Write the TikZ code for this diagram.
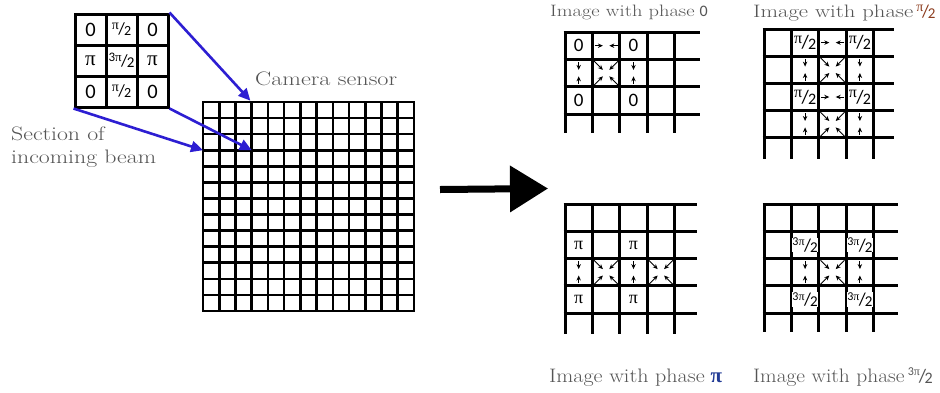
\documentclass[tikz,border=0pt]{standalone}
\usepackage{fontspec}
\usepackage{graphicx}
\usetikzlibrary{arrows.meta,calc}
\newfontfamily\calib{Carlito}
\newfontfamily\lserif{Liberation Serif}
\definecolor{txtgray}{RGB}{85,85,85}
\definecolor{beamblue}{RGB}{45,30,210}
\definecolor{phbrown}{RGB}{140,60,30}
\definecolor{phblue}{RGB}{35,60,150}
% #1 numerator, #2 denominator, #3 num size, #4 slash size, #5 den size, #6 raise
\newcommand\pfr[6]{\raisebox{#6}{\fontsize{#3}{#3}\selectfont #1}\kern-0.06em{\calib\fontsize{#4}{#4}\selectfont /}\kern-0.08em\raisebox{-1pt}{\calib\fontsize{#5}{#5}\selectfont #2}}
\newcommand\pipart{{\lserif π}}
\newcommand\threepi{{\calib 3}{\lserif π}}
\newcommand\wide[2]{\scalebox{#1}[1]{#2}}
\begin{document}
\begin{tikzpicture}[x=1pt,y=-1pt,
  txt/.style={text=txtgray, font=\fontsize{19.5}{23.5}\selectfont, inner sep=0pt},
  lab/.style={fill=white, inner sep=0.3pt, text=black},
  gridline/.style={line width=3pt, line cap=rect},
  sensline/.style={line width=2.6pt},
  beam/.style={draw=beamblue, line width=2.6pt, -{Triangle[length=12pt,width=11pt]}, fill=beamblue},
  sarr/.style={line width=0.9pt, -{Stealth[length=5pt,width=4.4pt]}},
  hpair/.pic={\draw[sarr] (-11.5,0)--(-3.2,0); \draw[sarr] (11.5,0)--(3.2,0);},
  vpair/.pic={\draw[sarr] (0,-11)--(0,-3.2); \draw[sarr] (0,11)--(0,3.2);},
  dquad/.pic={\foreach \sx/\sy in {-1/-1,1/-1,-1/1,1/1}{\draw[sarr] (\sx*12,\sy*12)--(\sx*3.2,\sy*3.2);}}
]
\useasboundingbox (0,0) rectangle (940,392);
\fill[white] (0,0) rectangle (940,392);

% ---- section of incoming beam (3x3) ----
\node[draw, line width=3pt, minimum width=93pt, minimum height=93pt, inner sep=0pt] (section) at (121.5,60.5) {};
\foreach \i in {1,2}{
  \draw[gridline] (75+\i*31,14) -- (75+\i*31,107);
  \draw[gridline] (75,14+\i*31) -- (168,14+\i*31);
}
\node[lab, font=\calib\fontsize{20.5}{22}\selectfont] (s00) at (90.5,29.5) {0};
\node[lab] (s10) at (121.5,29.5) {\pfr{\pipart}{2}{14}{17}{14}{5pt}};
\node[lab, font=\calib\fontsize{20.5}{22}\selectfont] (s20) at (152.5,29.5) {0};
\node[lab, font=\lserif\fontsize{21}{22}\selectfont] (s01) at (90.5,60.5) {π};
\node[lab] (s11) at (121.5,60.5) {\pfr{\threepi}{2}{13}{17}{15}{5pt}};
\node[lab, font=\lserif\fontsize{21}{22}\selectfont] (s21) at (152.5,60.5) {π};
\node[lab, font=\calib\fontsize{20.5}{22}\selectfont] (s02) at (90.5,91.5) {0};
\node[lab] (s12) at (121.5,91.5) {\pfr{\pipart}{2}{14}{17}{14}{5pt}};
\node[lab, font=\calib\fontsize{20.5}{22}\selectfont] (s22) at (152.5,91.5) {0};

% ---- camera sensor ----
\node[draw, line width=2.6pt, minimum width=211pt, minimum height=209pt, inner sep=0pt] (sensor) at (308.5,206.5) {};
\foreach \i in {1,...,12}{
  \draw[sensline] (203+\i*211/13,102) -- (203+\i*211/13,311);
  \draw[sensline] (203,102+\i*209/13) -- (414,102+\i*209/13);
}
\coordinate (hitA) at ($(sensor.north west)+(3*211/13,0)$);
\coordinate (hitB) at (203+3*211/13,102+3*209/13);
\coordinate (hitC) at (203,102+3*209/13);

\draw[beam] (section.north east) -- (hitA);
\draw[beam] (section.south east) -- (hitB);
\draw[beam] (section.south west) -- (hitC);

\node[txt, anchor=base west] (cam) at (255,85) {\wide{1.24}{Camera sensor}};
\node[txt, anchor=base west, align=left] (sect) at (11,163.5) {\wide{1.22}{Section of}\\\wide{1.22}{incoming beam}};

% ---- big arrow ----
\coordinate (ba1) at (440,189.5);
\coordinate (ba2) at (548,188.5);
\draw[line width=7pt, -{Triangle[length=38pt,width=45pt]}] (ba1) -- (ba2);

% ---- panel 1: phase 0 ----
\foreach \i in {0,...,4} \draw[gridline, line cap=butt] (565+\i*27.4,32) -- (565+\i*27.4,133);
\foreach \j in {0,...,3} \draw[gridline, line cap=butt] (563.5,32+\j*27.4) -- (700,32+\j*27.4);
\node[lab, font=\calib\fontsize{19}{20}\selectfont] (a1) at (578.7,45.7) {0};
\node[lab, font=\calib\fontsize{19}{20}\selectfont] (a2) at (633.5,45.7) {0};
\node[lab, font=\calib\fontsize{19}{20}\selectfont] (a3) at (578.7,100.5) {0};
\node[lab, font=\calib\fontsize{19}{20}\selectfont] (a4) at (633.5,100.5) {0};
\pic (ah1) at (606.1,45.7) {hpair};
\pic (av1) at (578.7,73.1) {vpair};
\pic (ad1) at (606.1,73.1) {dquad};
\pic (av2) at (633.5,73.1) {vpair};

% ---- panel 2: phase pi/2 ----
\foreach \i in {0,...,4} \draw[gridline, line cap=butt] (764+\i*27.4,29) -- (764+\i*27.4,159);
\foreach \j in {0,...,4} \draw[gridline, line cap=butt] (762.5,29+\j*27.2) -- (894,29+\j*27.2);
\node[lab] (b1) at (805.1,42.6) {\pfr{\pipart}{2}{16}{19}{16}{5.5pt}};
\node[lab] (b2) at (859.9,42.6) {\pfr{\pipart}{2}{16}{19}{16}{5.5pt}};
\node[lab] (b3) at (805.1,97) {\pfr{\pipart}{2}{16}{19}{16}{5.5pt}};
\node[lab] (b4) at (859.9,97) {\pfr{\pipart}{2}{16}{19}{16}{5.5pt}};
\pic (bh1) at (832.5,42.6) {hpair};
\pic (bh2) at (832.5,97) {hpair};
\pic (bv1) at (805.1,69.8) {vpair};
\pic (bv2) at (859.9,69.8) {vpair};
\pic (bv3) at (805.1,124.2) {vpair};
\pic (bv4) at (859.9,124.2) {vpair};
\pic (bd1) at (832.5,69.8) {dquad};
\pic (bd2) at (832.5,124.2) {dquad};

% ---- panel 3: phase pi ----
\foreach \i in {0,...,4} \draw[gridline, line cap=butt] (565+\i*27.4,204) -- (565+\i*27.4,334);
\foreach \j in {0,...,4} \draw[gridline, line cap=butt] (563.5,204+\j*27.3) -- (697,204+\j*27.3);
\node[lab, font=\lserif\fontsize{18}{20}\selectfont] (c1) at (578.7,245) {π};
\node[lab, font=\lserif\fontsize{18}{20}\selectfont] (c2) at (633.5,245) {π};
\node[lab, font=\lserif\fontsize{18}{20}\selectfont] (c3) at (578.7,299.6) {π};
\node[lab, font=\lserif\fontsize{18}{20}\selectfont] (c4) at (633.5,299.6) {π};
\pic (cv1) at (578.7,272.3) {vpair};
\pic (cd1) at (606.1,272.3) {dquad};
\pic (cv2) at (633.5,272.3) {vpair};
\pic (cd2) at (660.9,272.3) {dquad};

% ---- panel 4: phase 3pi/2 ----
\foreach \i in {0,...,4} \draw[gridline, line cap=butt] (764+\i*27.4,204) -- (764+\i*27.4,332);
\foreach \j in {0,...,4} \draw[gridline, line cap=butt] (762.5,204+\j*27.3) -- (898,204+\j*27.3);
\node[lab] (d1) at (805.1,245) {\pfr{\threepi}{2}{12}{18}{15}{5.5pt}};
\node[lab] (d2) at (859.9,245) {\pfr{\threepi}{2}{12}{18}{15}{5.5pt}};
\node[lab] (d3) at (805.1,299.6) {\pfr{\threepi}{2}{12}{18}{15}{5.5pt}};
\node[lab] (d4) at (859.9,299.6) {\pfr{\threepi}{2}{12}{18}{15}{5.5pt}};
\pic (dv1) at (805.1,272.3) {vpair};
\pic (dd1) at (832.5,272.3) {dquad};
\pic (dv2) at (859.9,272.3) {vpair};

% ---- titles ----
\node[txt, font=\fontsize{16.5}{20}\selectfont, anchor=base west] (t1) at (550,16.5) {\wide{1.24}{Image with phase}\ {\calib\fontsize{16}{18}\selectfont 0}};
\node[txt, font=\fontsize{18}{22}\selectfont, anchor=base west] (t2) at (753,17) {\wide{1.26}{Image with phase}\,\textcolor{phbrown}{\pfr{\pipart}{2}{14}{18}{15}{6pt}}};
\node[txt, anchor=base west] (t3) at (549,382) {\wide{1.13}{Image with phase}\ \textcolor{phblue}{\lserif\bfseries\fontsize{21}{23}\selectfont π}};
\node[txt, anchor=base west] (t4) at (753,382) {\wide{1.1}{Image with phase}\,\pfr{\threepi}{2}{12}{19}{16}{6.5pt}};
\end{tikzpicture}
\end{document}
